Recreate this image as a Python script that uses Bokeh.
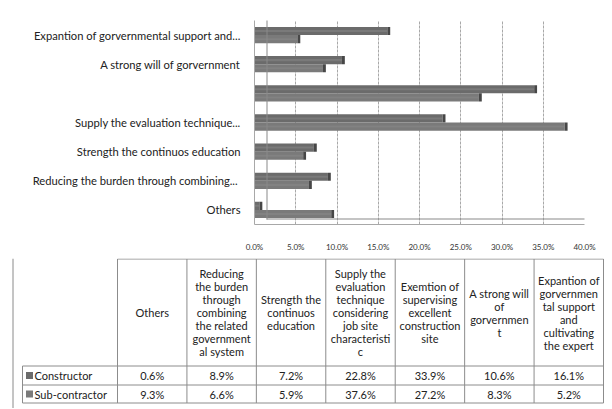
from bokeh.plotting import figure
from bokeh.models import Range1d, FixedTicker, NumeralTickFormatter, ColumnDataSource, PolyAnnotation
from bokeh.embed import file_html
from bokeh.resources import INLINE
from bokeh.core.properties import value

# ---------------- data ----------------
categories = ["Others",
              "Reducing the burden through combining the related governmental system",
              "Strength the continuos education",
              "Supply the evaluation technique considering job site characteristic",
              "Exemtion of supervising excellent construction site",
              "A strong will of gorvernment",
              "Expantion of gorvernmental support and cultivating the expert"]
axis_labels = ["Others",
               "Reducing the burden through  combining...",
               "Strength the continuos education",
               "Supply the evaluation technique...",
               "",
               "A strong will of gorvernment",
               "Expantion of gorvernmental support and..."]
table_headers = ["Others",
                 "Reducing\nthe burden\nthrough\ncombining\nthe related\ngovernment\nal system",
                 "Strength the\ncontinuos\neducation",
                 "Supply the\nevaluation\ntechnique\nconsidering\njob site\ncharacteristi\nc",
                 "Exemtion of\nsupervising\nexcellent\nconstruction\nsite",
                 "A strong will\nof\ngorvernmen\nt",
                 "Expantion of\ngorvernmen\ntal support\nand\ncultivating\nthe expert"]
series_names = ["Constructor", "Sub-contractor"]
constructor = [0.6, 8.9, 7.2, 22.8, 33.9, 10.6, 16.1]
sub_contractor = [9.3, 6.6, 5.9, 37.6, 27.2, 8.3, 5.2]
x_ticks = [0.0, 0.05, 0.10, 0.15, 0.20, 0.25, 0.30, 0.35, 0.40]

colors = ["#6b6b6b", "#7a7a7a"]
cap_color = "#474747"
frame_color = "#8a8a8a"
FONT = value("Lato")
n = len(categories)

W, H1, H2 = 610, 258, 150
FL, FW, FT, FH = 254, 330, 20, 204   # plot frame placement

# ---------------- chart ----------------
p1 = figure(width=W, height=H1, x_range=Range1d(0, 0.4), y_range=Range1d(0, n),
            output_backend="svg", toolbar_location=None,
            min_border_left=FL, min_border_right=W - FL - FW,
            min_border_top=FT, min_border_bottom=H1 - FT - FH)
p1.outline_line_color = None
p1.ygrid.grid_line_color = None
p1.xgrid.grid_line_color = "#a8a8a8"
p1.xgrid.grid_line_dash = "3 1"

# outer chart-area frame (left and top edges)
p1.add_layout(PolyAnnotation(xs=[12, 13, 13, 12], ys=[5, 5, H1, H1], xs_units="screen", ys_units="screen",
                             fill_color=frame_color, fill_alpha=1, line_color=None))
p1.add_layout(PolyAnnotation(xs=[12, W, W, 12], ys=[5, 5, 6, 6], xs_units="screen", ys_units="screen",
                             fill_color=frame_color, fill_alpha=1, line_color=None))

bh = 0.28
yc = [i + 0.5 for i in range(n)]
src = ColumnDataSource(dict(
    yc=yc,
    y_con=[y + bh / 2 for y in yc],
    y_sub=[y - bh / 2 for y in yc],
    con=[v / 100 for v in constructor],
    sub=[v / 100 for v in sub_contractor],
    con_cap=[v / 100 + 0.0035 for v in constructor],
    sub_cap=[v / 100 + 0.0035 for v in sub_contractor],
))
for yk, vk, ck, col in [("y_con", "con", "con_cap", colors[0]), ("y_sub", "sub", "sub_cap", colors[1])]:
    p1.hbar(y=yk, left=0, right=vk, height=bh, source=src, fill_color=col, line_color=None)
    p1.hbar(y=yk, left=vk, right=ck, height=bh, source=src, fill_color=cap_color, line_color=None)
    p1.hbar(y=yk, left=0, right=vk, height=bh * 0.25, source=src,
            fill_color="#8a8a8a", fill_alpha=0.5, line_color=None)

p1.xaxis.ticker = FixedTicker(ticks=x_ticks)
p1.xaxis.formatter = NumeralTickFormatter(format="0.0%")
p1.xaxis.major_tick_line_color = None
p1.xaxis.minor_tick_line_color = None
p1.xaxis.axis_line_color = "#a8a8a8"
p1.xaxis.major_label_standoff = 11
p1.xaxis.major_label_text_font = "Lato"
p1.xaxis.major_label_text_font_size = "8px"
p1.xaxis.major_label_text_color = "#333333"

p1.yaxis.ticker = FixedTicker(ticks=yc)
p1.yaxis.major_label_overrides = {y: lab for y, lab in zip(yc, axis_labels)}
p1.yaxis.major_tick_line_color = None
p1.yaxis.minor_tick_line_color = None
p1.yaxis.axis_line_color = "#a8a8a8"
p1.yaxis.major_label_standoff = 8
p1.yaxis.major_label_text_font = "Lato"
p1.yaxis.major_label_text_font_size = "11.2px"
p1.yaxis.major_label_text_color = "#222222"

# ---------------- table ----------------
p2 = figure(width=W, height=H2, x_range=Range1d(0, W), y_range=Range1d(H2, 0),
            output_backend="svg", toolbar_location=None,
            x_axis_location=None, y_axis_location=None,
            min_border=0, min_border_left=0, min_border_right=0,
            min_border_top=0, min_border_bottom=0)
p2.outline_line_color = None
p2.grid.visible = False

x_leg = 22
x_first = 117
x_last = 603
cw = (x_last - x_first) / n
col_edges = [x_first + i * cw for i in range(n + 1)]
col_centers = [x_first + (i + 0.5) * cw for i in range(n)]
y_head_top, y_head_bot, y_r1, y_r2 = 0.5, 107.5, 126.5, 144.5

lc = "#8c8c8c"
xs0, ys0, xs1, ys1 = [], [], [], []
for xe in col_edges:
    xs0.append(xe); ys0.append(y_head_top); xs1.append(xe); ys1.append(y_r2)
xs0.append(x_leg); ys0.append(y_head_bot); xs1.append(x_leg); ys1.append(y_r2)
xs0.append(x_first); ys0.append(y_head_top); xs1.append(x_last); ys1.append(y_head_top)
for yy in (y_head_bot, y_r1, y_r2):
    xs0.append(x_leg); ys0.append(yy); xs1.append(x_last); ys1.append(yy)
p2.segment(x0=xs0, y0=ys0, x1=xs1, y1=ys1, line_color=lc, line_width=1)
# continuation of the outer chart-area frame
p2.segment(x0=[12.5], y0=[0], x1=[12.5], y1=[H2], line_color=frame_color, line_width=1)

p2.text(x=col_centers, y=[(y_head_top + y_head_bot) / 2] * n, text=table_headers,
        text_align="center", text_baseline="middle", text_font=FONT,
        text_font_size="11px", text_line_height=1.0, text_color="#222222")

row_y = [(y_head_bot + y_r1) / 2, (y_r1 + y_r2) / 2]
p2.rect(x=[x_leg + 7] * 2, y=row_y, width=7, height=7, fill_color=colors, line_color=None)
p2.text(x=[x_leg + 12] * 2, y=row_y, text=series_names, text_align="left",
        text_baseline="middle", text_font=FONT, text_font_size="11px", text_color="#222222")
for vals, yy in zip([constructor, sub_contractor], row_y):
    p2.text(x=col_centers, y=[yy] * n, text=[f"{v:.1f}%" for v in vals],
            text_align="center", text_baseline="middle", text_font=FONT,
            text_font_size="11px", text_color="#222222")

open("out.html", "w").write(file_html([p1, p2], INLINE))
